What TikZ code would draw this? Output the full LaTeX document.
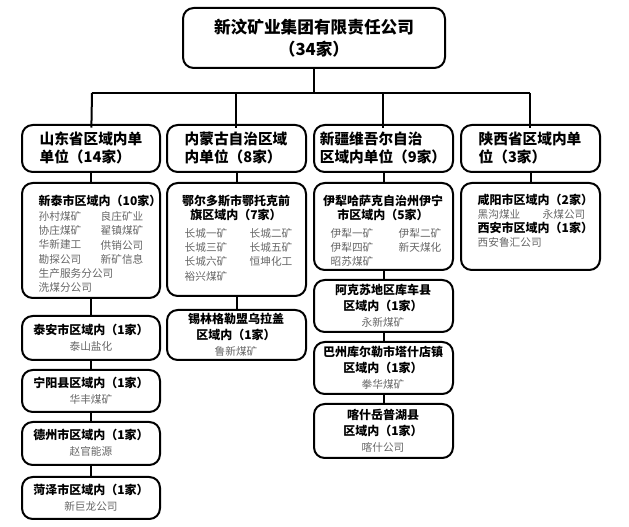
\documentclass[tikz,border=0pt]{standalone}
\usepackage{fontspec}
\setmainfont{Noto Sans CJK SC}
\begin{document}
\begin{tikzpicture}[x=0.75pt,y=-0.75pt,
 bx/.style={draw,line width=1.5pt,rounded corners=8pt},
 ln/.style={line width=1.5pt},
 hd/.style={font=\fontsize{9}{11}\selectfont\bfseries},
 it/.style={text=black!60,font=\fontsize{8}{10.6}\selectfont}]
\useasboundingbox (0,0) rectangle (629,527);
\def\bxx#1#2#3#4#5{\draw[bx] (#2,#3) rectangle (#4,#5); \coordinate (#1t) at ({(#2+#4)/2},#3); \coordinate (#1b) at ({(#2+#4)/2},#5);}
\bxx{top}{183}{8}{445}{68}
\node[font=\fontsize{12.5}{16}\selectfont\bfseries,align=center] (toptxt) at (314,38) {新汶矿业集团有限责任公司\\（34家）};
\bxx{A}{22}{125}{160}{172}
\bxx{B}{167}{125}{306}{172}
\bxx{C}{314}{125}{453}{172}
\bxx{D}{461}{125}{600}{172}
\node[font=\fontsize{11}{13}\selectfont\bfseries,align=left] (At) at (91,148) {山东省区域内单\\单位（14家）};
\node[font=\fontsize{11}{13}\selectfont\bfseries,align=left] (Bt) at (236,148) {内蒙古自治区域\\内单位（8家）};
\node[font=\fontsize{11}{13}\selectfont\bfseries,align=left] (Ct) at (383,148) {新疆维吾尔自治\\区域内单位（9家）};
\node[font=\fontsize{11}{13}\selectfont\bfseries,align=left] (Dt) at (530,148) {陕西省区域内单\\位（3家）};
\coordinate (bus) at (314,93);
\draw[ln] (topb) -- (bus);
\draw[ln] (92,93) -- (530,93);
\draw[ln] (92,93) -- (At); \draw[ln] (236,93) -- (Bt); \draw[ln] (383,93) -- (Ct); \draw[ln] (530,93) -- (Dt);
\bxx{A1}{22}{183}{160}{298}
\bxx{B1}{167}{183}{306}{296}
\bxx{C1}{314}{183}{453}{270}
\bxx{D1}{461}{183}{600}{270}
\bxx{A2}{22}{316}{160}{360}
\bxx{A3}{22}{370}{160}{412}
\bxx{A4}{22}{422}{160}{465}
\bxx{A5}{22}{477}{160}{519}
\bxx{B2}{167}{310}{306}{360}
\bxx{C2}{314}{280}{453}{332}
\bxx{C3}{314}{342}{453}{394}
\bxx{C4}{314}{404}{453}{458}
\draw[ln] (Ab)--(A1t); \draw[ln] (Bb)--(B1t); \draw[ln] (Cb)--(C1t); \draw[ln] (Db)--(D1t);
\draw[ln] (A1b)--(A2t); \draw[ln] (A2b)--(A3t); \draw[ln] (A3b)--(A4t); \draw[ln] (A4b)--(A5t);
\draw[ln] (B1b)--(B2t); \draw[ln] (C1b)--(C2t); \draw[ln] (C2b)--(C3t); \draw[ln] (C3b)--(C4t);
\node[hd,anchor=west] (a1h) at (34,201) {新泰市区域内（10家）};
\node[it,anchor=north west,align=left] (a1i) at (34,207) {孙村煤矿\\协庄煤矿\\华新建工\\勘探公司\\生产服务分公司\\洗煤分公司};
\node[it,anchor=north west,align=left] (a1j) at (96,207) {良庄矿业\\翟镇煤矿\\供销公司\\新矿信息};
\node[hd,align=center] (b1h) at (236,208) {鄂尔多斯市鄂托克前\\旗区域内（7家）};
\node[it,anchor=north west,align=left] (b1i) at (180,224) {长城一矿\\长城三矿\\长城六矿\\裕兴煤矿};
\node[it,anchor=north west,align=left] (b1j) at (245,224) {长城二矿\\长城五矿\\恒坤化工};
\node[hd,align=center] (c1h) at (383,208) {伊犁哈萨克自治州伊宁\\市区域内（5家）};
\node[it,anchor=north west,align=left] (c1i) at (326,224) {伊犁一矿\\伊犁四矿\\昭苏煤矿};
\node[it,anchor=north west,align=left] (c1j) at (394,224) {伊犁二矿\\新天煤化};
\node[hd,anchor=west] (d1h) at (473,200) {咸阳市区域内（2家）};
\node[it,anchor=west] (d1i) at (473,214) {黑沟煤业};
\node[it,anchor=west] (d1j) at (538,214) {永煤公司};
\node[hd,anchor=west] (d1k) at (473,228) {西安市区域内（1家）};
\node[it,anchor=west] (d1l) at (473,242) {西安鲁汇公司};
\node[align=center] (a2) at (91,338) {\fontsize{9}{11}\selectfont\bfseries 泰安市区域内（1家）\\\color{black!60}\fontsize{8}{10}\selectfont 泰山盐化};
\node[align=center] (a3) at (91,391) {\fontsize{9}{11}\selectfont\bfseries 宁阳县区域内（1家）\\\color{black!60}\fontsize{8}{10}\selectfont 华丰煤矿};
\node[align=center] (a4) at (91,443) {\fontsize{9}{11}\selectfont\bfseries 德州市区域内（1家）\\\color{black!60}\fontsize{8}{10}\selectfont 赵官能源};
\node[align=center] (a5) at (91,498) {\fontsize{9}{11}\selectfont\bfseries 菏泽市区域内（1家）\\\color{black!60}\fontsize{8}{10}\selectfont 新巨龙公司};
\node[align=center] (b2) at (236,335) {\fontsize{9}{11}\selectfont\bfseries 锡林格勒盟乌拉盖\\\fontsize{9}{11}\selectfont\bfseries 区域内（1家）\\\color{black!60}\fontsize{8}{10}\selectfont 鲁新煤矿};
\node[align=center] (c2) at (383,306) {\fontsize{9}{11}\selectfont\bfseries 阿克苏地区库车县\\\fontsize{9}{11}\selectfont\bfseries 区域内（1家）\\\color{black!60}\fontsize{8}{10}\selectfont 永新煤矿};
\node[align=center] (c3) at (383,368) {\fontsize{9}{11}\selectfont\bfseries 巴州库尔勒市塔什店镇\\\fontsize{9}{11}\selectfont\bfseries 区域内（1家）\\\color{black!60}\fontsize{8}{10}\selectfont 拳华煤矿};
\node[align=center] (c4) at (383,431) {\fontsize{9}{11}\selectfont\bfseries 喀什岳普湖县\\\fontsize{9}{11}\selectfont\bfseries 区域内（1家）\\\color{black!60}\fontsize{8}{10}\selectfont 喀什公司};
\end{tikzpicture}
\end{document}
